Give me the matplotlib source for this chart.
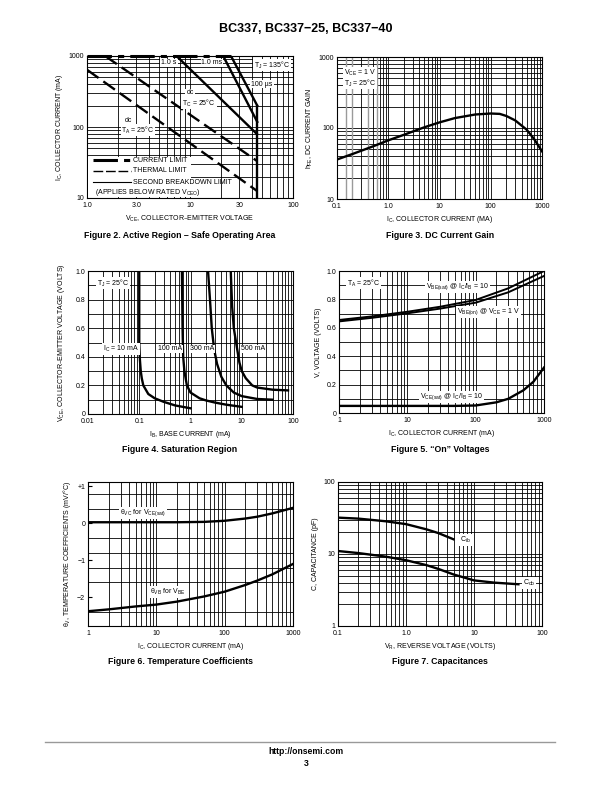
import numpy as np
import matplotlib
matplotlib.use("Agg")
import matplotlib.pyplot as plt
from matplotlib.ticker import FixedLocator, NullFormatter, LogLocator, MultipleLocator

plt.rcParams['font.family'] = ['Liberation Sans Narrow', 'Liberation Sans', 'DejaVu Sans']

# ---------------- data ----------------
# Figure 2: Safe operating area
soa_ta_v = [1.0, 45]
soa_ta_i = [640, 12.5]
soa_tc_v = [1.5, 45]
soa_tc_i = [1000, 33]
soa_1s_v = [7.4, 44.5]
soa_1s_i = [1000, 80]
soa_1ms_v = [21, 45]
soa_1ms_i = [1000, 118]
soa_100us_v = [25, 45]
soa_100us_i = [1000, 200]
soa_vceo_v = [45, 45]
soa_vceo_i = [200, 10]
soa_cl_v = [1.0, 25]
soa_cl_i = [1000, 1000]

# Figure 3: DC current gain
hfe_ic = [0.1, 0.2, 0.5, 1, 2, 5, 10, 20, 50, 100, 150, 200, 300, 500, 700, 1000]
hfe_val = [36, 43, 55, 67, 80, 102, 120, 138, 155, 160, 158, 148, 128, 95, 70, 47]
hfe_gray_lines = [0.15, 0.2, 0.4, 0.6]

# Figure 4: Saturation region
sat10_ib = [0.1, 0.1, 0.103, 0.107, 0.112, 0.12, 0.15, 0.2, 0.3, 0.5, 1.0]
sat10_v = [1.0, 0.5, 0.38, 0.3, 0.25, 0.2, 0.14, 0.11, 0.085, 0.06, 0.04]
sat100_ib = [0.68, 0.7, 0.72, 0.76, 0.85, 1.0, 1.5, 2, 3, 5, 10]
sat100_v = [1.0, 0.6, 0.4, 0.3, 0.2, 0.15, 0.11, 0.095, 0.08, 0.065, 0.05]
sat300_ib = [2.2, 2.4, 2.6, 2.9, 3.3, 4, 5, 7, 10, 20, 40]
sat300_v = [1.0, 0.8, 0.6, 0.45, 0.35, 0.26, 0.2, 0.15, 0.125, 0.105, 0.1]
sat500_ib = [6.1, 6.5, 7, 8, 9, 10, 12, 16, 20, 40, 80]
sat500_v = [1.0, 0.75, 0.6, 0.47, 0.36, 0.3, 0.25, 0.2, 0.185, 0.17, 0.165]

# Figure 5: "On" voltages
on_ic = [1, 3, 10, 30, 100, 300, 1000]
vbe_sat = [0.655, 0.68, 0.713, 0.748, 0.796, 0.878, 1.0]
vbe_on = [0.645, 0.67, 0.702, 0.735, 0.777, 0.85, 0.965]
vce_ic = [1, 10, 50, 100, 200, 300, 500, 700, 1000]
vce_sat = [0.05, 0.05, 0.05, 0.053, 0.075, 0.1, 0.16, 0.22, 0.32]

# Figure 6: Temperature coefficients
tc_ic = [1, 2, 5, 10, 20, 50, 100, 200, 300, 500, 1000]
theta_vc = [0.03, 0.03, 0.03, 0.03, 0.03, 0.04, 0.07, 0.13, 0.18, 0.27, 0.42]
theta_vb = [-2.38, -2.33, -2.25, -2.2, -2.12, -1.98, -1.85, -1.67, -1.55, -1.38, -1.1]

# Figure 7: Capacitances
cib_v = [0.1, 0.2, 0.5, 1, 2, 3, 5]
cib_c = [32, 31, 28.5, 26, 22, 19.5, 16]
cob_v = [0.1, 0.2, 0.5, 1, 2, 3, 5, 10, 20, 45]
cob_c = [11, 10.3, 9.2, 8.2, 7.0, 6.2, 5.2, 4.3, 4.0, 3.8]

# ---------------- layout ----------------
W, H = 612, 792
fig = plt.figure(figsize=(W / 100, H / 100), dpi=100)

def add_ax(l, r, t, b):
    return fig.add_axes([l / W, 1 - b / H, (r - l) / W, (b - t) / H])

def ftext(x, y, s, **kw):
    kw.setdefault('fontsize', 5)
    kw.setdefault('ha', 'left')
    kw.setdefault('va', 'center')
    return fig.text(x / W, 1 - y / H, s, **kw)

GRID = dict(color='black', lw=0.6)
CLW = 1.7
TFS = 5

def style(ax):
    for s in ax.spines.values():
        s.set_linewidth(0.8)
    ax.tick_params(which='both', length=0, labelsize=TFS, pad=2)
    ax.tick_params(axis='x', which='both', pad=3)
    ax.set_axisbelow(True)

def logx(ax, lo, hi, labels):
    ax.set_xscale('log')
    ax.set_xlim(lo, hi)
    ax.xaxis.set_major_locator(FixedLocator([float(v) for v in labels]))
    ax.set_xticklabels(labels)
    ax.xaxis.set_minor_locator(LogLocator(base=10, subs=np.arange(2, 10)))
    ax.xaxis.set_minor_formatter(NullFormatter())
    ax.grid(True, which='both', axis='x', **GRID)

def logy(ax, lo, hi, labels):
    ax.set_yscale('log')
    ax.set_ylim(lo, hi)
    ax.yaxis.set_major_locator(FixedLocator([float(v) for v in labels]))
    ax.set_yticklabels(labels)
    ax.yaxis.set_minor_locator(LogLocator(base=10, subs=np.arange(2, 10)))
    ax.yaxis.set_minor_formatter(NullFormatter())
    ax.grid(True, which='both', axis='y', **GRID)

def liny(ax):
    ax.set_ylim(0, 1.0)
    ax.set_yticks([0, 0.2, 0.4, 0.6, 0.8, 1.0])
    ax.set_yticklabels(['0', '0.2', '0.4', '0.6', '0.8', '1.0'])
    ax.yaxis.set_minor_locator(MultipleLocator(0.1))
    ax.grid(True, which='both', axis='y', **GRID)

BOX = dict(facecolor='white', edgecolor='none', pad=0.6)

# header / footer
ftext(306, 29, 'BC337, BC337\u221225, BC337\u221240', ha='center', fontsize=9, fontweight='bold',
      family=['Liberation Sans', 'DejaVu Sans'])
fig.add_artist(plt.Line2D([45 / W, 555 / W], [1 - 742 / H, 1 - 742 / H], color='#999999', lw=1.0))
ftext(306, 752, 'http://onsemi.com', ha='center', fontsize=6.2, fontweight='bold',
      family=['Liberation Sans', 'DejaVu Sans'])
ftext(306, 763, '3', ha='center', fontsize=6.2, fontweight='bold',
      family=['Liberation Sans', 'DejaVu Sans'])

CAP = dict(ha='center', fontsize=6.3, fontweight='bold', family=['Liberation Sans', 'DejaVu Sans'])

# ---------------- Figure 2 ----------------
ax = add_ax(87, 293, 56, 198)
style(ax)
logx(ax, 1, 100, ['1.0', '3.0', '10', '30', '100'])
logy(ax, 10, 1000, ['10', '100', '1000'])
ax.plot(soa_ta_v, soa_ta_i, color='black', lw=CLW, ls=(0, (6, 2.5)))
ax.plot(soa_tc_v, soa_tc_i, color='black', lw=CLW, ls=(0, (6, 2.5)))
ax.plot(soa_1s_v, soa_1s_i, color='black', lw=CLW)
ax.plot(soa_1ms_v, soa_1ms_i, color='black', lw=CLW)
ax.plot(soa_100us_v, soa_100us_i, color='black', lw=CLW)
ax.plot(soa_vceo_v, soa_vceo_i, color='black', lw=CLW)
ax.plot(soa_cl_v, soa_cl_i, color='black', lw=2.2, ls=(0, (8, 2, 2, 2)), clip_on=False)
ax.set_xlabel('V$_{\\mathregular{CE}}$, COLLECTOR\u2013EMITTER VOLTAGE', fontsize=TFS, labelpad=3)
ax.set_ylabel('I$_{\\mathregular{C}}$, COLLECTOR CURRENT (mA)', fontsize=TFS, labelpad=3)
# legend box
ax.add_patch(plt.Rectangle((0.005, 0.005), 0.50, 0.285, transform=ax.transAxes,
                           facecolor='white', edgecolor='none', zorder=3))
ly = [160, 171, 182]
fig.add_artist(plt.Line2D([93 / W, 131 / W], [1 - ly[0] / H] * 2, color='black', lw=2.2,
                          ls=(0, (8, 2, 2, 2))))
fig.add_artist(plt.Line2D([93 / W, 131 / W], [1 - ly[1] / H] * 2, color='black', lw=1.0,
                          ls=(0, (7, 2))))
fig.add_artist(plt.Line2D([93 / W, 131 / W], [1 - ly[2] / H] * 2, color='black', lw=0.8))
ftext(133, ly[0], 'CURRENT LIMIT')
ftext(133, ly[1], 'THERMAL LIMIT')
ftext(133, ly[2], 'SECOND BREAKDOWN LIMIT')
ftext(95, 192, '(APPLIES BELOW RATED V$_{\\mathregular{CEO}}$)')
ftext(169, 63, '1.0 s', ha='center', bbox=BOX)
ftext(212, 63, '1.0 ms', ha='center', bbox=BOX)
ftext(272, 65, 'T$_{\\mathregular{J}}$ = 135\u00b0C', ha='center', bbox=BOX)
ftext(262, 84, '100 \u00b5s', ha='center', bbox=BOX)
ftext(190, 93, 'dc', ha='center', bbox=BOX)
ftext(199, 103, 'T$_{\\mathregular{C}}$ = 25\u00b0C', ha='center', bbox=BOX)
ftext(128, 120, 'dc', ha='center', bbox=BOX)
ftext(138, 130, 'T$_{\\mathregular{A}}$ = 25\u00b0C', ha='center', bbox=BOX)
ftext(180, 235, 'Figure 2. Active Region \u2013 Safe Operating Area', **CAP)

# ---------------- Figure 3 ----------------
ax = add_ax(337, 542, 57, 199)
style(ax)
logx(ax, 0.1, 1000, ['0.1', '1.0', '10', '100', '1000'])
logy(ax, 10, 1000, ['10', '100', '1000'])
for gx in hfe_gray_lines:
    ax.axvline(gx, color='#9a9a9a', lw=1.0, zorder=1.5)
ax.plot(hfe_ic, hfe_val, color='black', lw=CLW)
ax.set_xlabel('I$_{\\mathregular{C}}$, COLLECTOR CURRENT (MA)', fontsize=TFS, labelpad=3)
ax.set_ylabel('h$_{\\mathregular{FE}}$, DC CURRENT GAIN', fontsize=TFS, labelpad=3)
ftext(344, 73, 'V$_{\\mathregular{CE}}$ = 1 V', bbox=BOX)
ftext(344, 83, 'T$_{\\mathregular{J}}$ = 25\u00b0C', bbox=BOX)
ftext(440, 235, 'Figure 3. DC Current Gain', **CAP)

# ---------------- Figure 4 ----------------
ax = add_ax(88, 293, 271, 414)
style(ax)
logx(ax, 0.01, 100, ['0.01', '0.1', '1', '10', '100'])
liny(ax)
for xs, ys in [(sat10_ib, sat10_v), (sat100_ib, sat100_v), (sat300_ib, sat300_v), (sat500_ib, sat500_v)]:
    ax.plot(xs, ys, color='black', lw=CLW)
ax.set_xlabel('I$_{\\mathregular{B}}$, BASE CURRENT (mA)', fontsize=TFS, labelpad=3)
ax.set_ylabel('V$_{\\mathregular{CE}}$, COLLECTOR\u2013EMITTER VOLTAGE (VOLTS)', fontsize=TFS, labelpad=6)
ftext(97, 283, 'T$_{\\mathregular{J}}$ = 25\u00b0C', bbox=BOX)
ftext(103, 349, 'I$_{\\mathregular{C}}$ = 10 mA', bbox=BOX)
ftext(158, 349, '100 mA', bbox=BOX)
ftext(190, 349, '300 mA', bbox=BOX)
ftext(241, 349, '500 mA', bbox=BOX)
ftext(180, 449, 'Figure 4. Saturation Region', **CAP)

# ---------------- Figure 5 ----------------
ax = add_ax(339, 544, 271, 413)
style(ax)
logx(ax, 1, 1000, ['1', '10', '100', '1000'])
liny(ax)
ax.plot(on_ic, vbe_sat, color='black', lw=1.4)
ax.plot(on_ic, vbe_on, color='black', lw=1.4)
ax.plot(vce_ic, vce_sat, color='black', lw=CLW)
ax.set_xlabel('I$_{\\mathregular{C}}$, COLLECTOR CURRENT (mA)', fontsize=TFS, labelpad=3)
ax.set_ylabel('V, VOLTAGE (VOLTS)', fontsize=TFS, labelpad=3)
ftext(347, 283, 'T$_{\\mathregular{A}}$ = 25\u00b0C', bbox=BOX)
ftext(426, 287, 'V$_{\\mathregular{BE(sat)}}$ @ I$_{\\mathregular{C}}$/I$_{\\mathregular{B}}$ = 10', bbox=BOX)
ftext(457, 312, 'V$_{\\mathregular{BE(on)}}$ @ V$_{\\mathregular{CE}}$ = 1 V', bbox=BOX)
ftext(420, 397, 'V$_{\\mathregular{CE(sat)}}$ @ I$_{\\mathregular{C}}$/I$_{\\mathregular{B}}$ = 10', bbox=BOX)
ftext(440, 449, 'Figure 5. \u201cOn\u201d Voltages', **CAP)

# ---------------- Figure 6 ----------------
ax = add_ax(88, 293, 482, 626)
style(ax)
logx(ax, 1, 1000, ['1', '10', '100', '1000'])
ax.set_ylim(-2.78, 1.12)
ax.set_yticks([1, 0, -1, -2])
ax.set_yticklabels(['+1', '0', '\u22121', '\u22122'])
ax.yaxis.set_minor_locator(FixedLocator([0.8, 0.4, 0.0, -0.4, -0.8, -1.2, -1.6, -2.0, -2.4]))
ax.grid(True, which='minor', axis='y', **GRID)
ax.tick_params(axis='y', which='major', length=3, width=0.8, direction='in')
ax.plot(tc_ic, theta_vc, color='black', lw=CLW)
ax.plot(tc_ic, theta_vb, color='black', lw=CLW)
ax.set_xlabel('I$_{\\mathregular{C}}$, COLLECTOR CURRENT (mA)', fontsize=TFS, labelpad=3)
ax.set_ylabel('\u03b8$_{\\mathregular{V}}$, TEMPERATURE COEFFICIENTS (mV/\u00b0C)', fontsize=TFS, labelpad=3)
ftext(120, 513, '\u03b8$_{\\mathregular{VC}}$ for V$_{\\mathregular{CE(sat)}}$', bbox=BOX)
ftext(150, 592, '\u03b8$_{\\mathregular{VB}}$ for V$_{\\mathregular{BE}}$', bbox=BOX)
ftext(180, 661, 'Figure 6. Temperature Coefficients', **CAP)

# ---------------- Figure 7 ----------------
ax = add_ax(338, 542, 482, 626)
style(ax)
logx(ax, 0.1, 100, ['0.1', '1.0', '10', '100'])
logy(ax, 1, 100, ['1', '10', '100'])
ax.plot(cib_v, cib_c, color='black', lw=CLW)
ax.plot(cob_v, cob_c, color='black', lw=CLW)
ax.set_xlabel('V$_{\\mathregular{R}}$, REVERSE VOLTAGE (VOLTS)', fontsize=TFS, labelpad=3)
ax.set_ylabel('C, CAPACITANCE (pF)', fontsize=TFS, labelpad=3)
ftext(460, 540, 'C$_{\\mathregular{ib}}$', bbox=BOX)
ftext(523, 583, 'C$_{\\mathregular{ob}}$', bbox=BOX)
ftext(440, 661, 'Figure 7. Capacitances', **CAP)

fig.savefig('out.png', dpi=100)
